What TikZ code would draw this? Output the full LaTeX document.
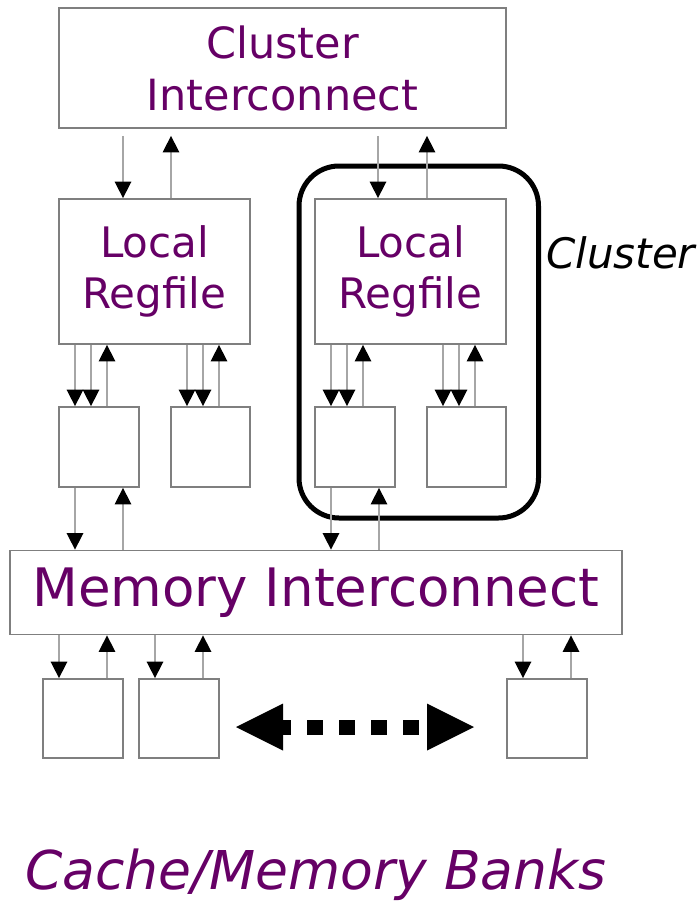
\documentclass[tikz,border=0pt]{standalone}
\usepackage{fontspec}
\setmainfont{DejaVu Sans}
\usetikzlibrary{arrows.meta}
\definecolor{txtpurple}{HTML}{660066}
\definecolor{boxgray}{HTML}{7F7F7F}
\definecolor{linegray}{HTML}{A6A6A6}
\tikzset{
  blk/.style={draw=boxgray, line width=1.8pt, rectangle, inner sep=0pt, fill=white},
  bigtxt/.style={text=txtpurple, align=center, font=\fontsize{42}{51}\selectfont},
  conn/.style={draw=linegray, line width=1.6pt, -{Triangle[length=16.5pt,width=16.5pt,black]}},
  lbl/.style={inner sep=0pt, anchor=base west},
}
\begin{document}
\begin{tikzpicture}[x=1pt,y=-1pt]
\useasboundingbox (0,0) rectangle (699,903);
% boxes
\node[blk, bigtxt, font=\fontsize{43}{52}\selectfont, minimum width=447pt, minimum height=120pt] (ci) at (282.5,68) {Cluster\\Interconnect};
\node[blk, bigtxt, minimum width=191pt, minimum height=145pt] (lrfL) at (154.5,271.5) {Local\\Regfile};
\node[blk, bigtxt, minimum width=191pt, minimum height=145pt] (lrfR) at (410.5,271.5) {Local\\Regfile};
\node[blk, minimum width=80pt, minimum height=80pt] (a1) at (99,447) {};
\node[blk, minimum width=79pt, minimum height=80pt] (a2) at (210.5,447) {};
\node[blk, minimum width=80pt, minimum height=80pt] (b1) at (355,447) {};
\node[blk, minimum width=79pt, minimum height=80pt] (b2) at (466.5,447) {};
\node[blk, minimum width=612pt, minimum height=84pt, text=txtpurple, font=\fontsize{53}{60}\selectfont] (mem) at (316,592.5) {Memory Interconnect};
\node[blk, minimum width=80pt, minimum height=79pt] (c1) at (83,718.5) {};
\node[blk, minimum width=80pt, minimum height=79pt] (c2) at (179,718.5) {};
\node[blk, minimum width=80pt, minimum height=79pt] (c3) at (547,718.5) {};
% cluster outline
\draw[line width=5pt, rounded corners=40pt] (299,166) rectangle (538.5,518);
\node[lbl, font=\fontsize{42}{50}\selectfont\itshape] (clab) at (546,268) {Cluster};
% cluster interconnect <-> regfiles
\draw[conn] (123,0 |- ci.south) ++(0,7) -- (123,0 |- lrfL.north);
\draw[conn] (171,0 |- lrfL.north) -- ([yshift=-7pt]171,0 |- ci.south);
\draw[conn] (378,0 |- ci.south) ++(0,7) -- (378,0 |- lrfR.north);
\draw[conn] (427,0 |- lrfR.north) -- ([yshift=-7pt]427,0 |- ci.south);
% regfiles <-> small boxes
\draw[conn] (75,0 |- lrfL.south) -- (75,0 |- a1.north);
\draw[conn] (91,0 |- lrfL.south) -- (91,0 |- a1.north);
\draw[conn] (107,0 |- a1.north) -- (107,0 |- lrfL.south);
\draw[conn] (187,0 |- lrfL.south) -- (187,0 |- a2.north);
\draw[conn] (203,0 |- lrfL.south) -- (203,0 |- a2.north);
\draw[conn] (219,0 |- a2.north) -- (219,0 |- lrfL.south);
\draw[conn] (331,0 |- lrfR.south) -- (331,0 |- b1.north);
\draw[conn] (347,0 |- lrfR.south) -- (347,0 |- b1.north);
\draw[conn] (363,0 |- b1.north) -- (363,0 |- lrfR.south);
\draw[conn] (443,0 |- lrfR.south) -- (443,0 |- b2.north);
\draw[conn] (459,0 |- lrfR.south) -- (459,0 |- b2.north);
\draw[conn] (475,0 |- b2.north) -- (475,0 |- lrfR.south);
% small boxes <-> memory interconnect
\draw[conn] (75,0 |- a1.south) -- (75,0 |- mem.north);
\draw[conn] (123,0 |- mem.north) -- (123,0 |- a1.south);
\draw[conn] (331,0 |- b1.south) -- (331,0 |- mem.north);
\draw[conn] (379,0 |- mem.north) -- (379,0 |- b1.south);
% memory interconnect <-> banks
\draw[conn] (59,0 |- mem.south) -- (59,0 |- c1.north);
\draw[conn] (107,0 |- c1.north) -- (107,0 |- mem.south);
\draw[conn] (155,0 |- mem.south) -- (155,0 |- c2.north);
\draw[conn] (203,0 |- c2.north) -- (203,0 |- mem.south);
\draw[conn] (523,0 |- mem.south) -- (523,0 |- c3.north);
\draw[conn] (571,0 |- c3.north) -- (571,0 |- mem.south);
% dotted double arrow
\coordinate (dl) at (236,727);
\coordinate (dr) at (474,727);
\draw[line width=15pt, dash pattern=on 16pt off 16pt] (275,727) -- (427,727);
\fill (dl) -- ++(47,-23.5) -- ++(0,47) -- cycle;
\fill (dr) -- ++(-47,-23.5) -- ++(0,47) -- cycle;
% bottom label
\node[lbl, text=txtpurple, font=\fontsize{53.5}{60}\selectfont\itshape] (banks) at (25,889) {Cache/Memory Banks};
\end{tikzpicture}
\end{document}
